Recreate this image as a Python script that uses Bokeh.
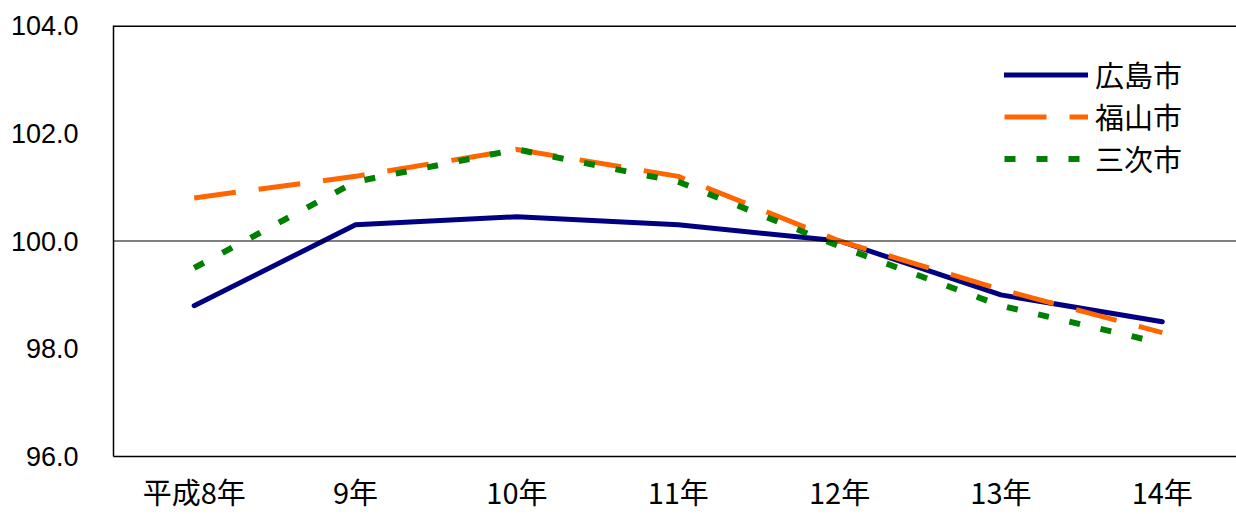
from bokeh.plotting import figure
from bokeh.models import (Range1d, FixedTicker, Span, Legend, LegendItem,
                          CustomJSTickFormatter)
from bokeh.embed import file_html
from bokeh.resources import INLINE

# ---- data ----
categories = ["平成8年", "9年", "10年", "11年", "12年", "13年", "14年"]
hiroshima = [98.8, 100.3, 100.45, 100.3, 100.0, 99.0, 98.5]
fukuyama = [100.8, 101.2, 101.7, 101.2, 100.0, 99.1, 98.3]
miyoshi = [99.5, 101.1, 101.7, 101.1, 99.9, 98.8, 98.1]
series_names = ["広島市", "福山市", "三次市"]
y_ticks = [96, 98, 100, 102, 104]

x = list(range(len(categories)))

p = figure(width=1236, height=514, output_backend="svg", toolbar_location=None,
           x_range=Range1d(-0.5, 6.46), y_range=Range1d(96, 104),
           min_border_left=113, min_border_right=0, min_border_top=25,
           min_border_bottom=57)
p.outline_line_color = None
p.background_fill_color = "white"
p.border_fill_color = "white"
p.xgrid.visible = False
p.ygrid.visible = False

# axes
p.yaxis.ticker = FixedTicker(ticks=y_ticks)
p.yaxis.formatter = CustomJSTickFormatter(code="return tick.toFixed(1);")
p.yaxis.major_tick_line_color = None
p.yaxis.minor_tick_line_color = None
p.yaxis.major_tick_out = 0
p.yaxis.major_label_standoff = 35
p.yaxis.major_label_text_font = "Liberation Sans"
p.yaxis.major_label_text_font_size = "27px"
p.yaxis.major_label_text_color = "black"
p.yaxis.axis_line_color = "black"
p.yaxis.axis_line_width = 1.5

p.xaxis.ticker = FixedTicker(ticks=x)
p.xaxis.major_label_overrides = {i: c for i, c in zip(x, categories)}
p.xaxis.major_tick_line_color = None
p.xaxis.minor_tick_line_color = None
p.xaxis.major_tick_out = 0
p.xaxis.major_label_standoff = 13
p.xaxis.major_label_text_font = "Noto Sans CJK JP"
p.xaxis.major_label_text_font_size = "29px"
p.xaxis.major_label_text_line_height = 0.8
p.xaxis.major_label_text_color = "black"
p.xaxis.axis_line_color = "black"
p.xaxis.axis_line_width = 1.5

# top border and 100 reference line
p.add_layout(Span(location=104, dimension="width", line_color="black", line_width=3))
p.add_layout(Span(location=100, dimension="width", line_color="black", line_width=1))

r1 = p.line(x, hiroshima, line_color="#000080", line_width=5, line_cap="round",
            line_join="round")
r2 = p.line(x, fukuyama, line_color="#FF6600", line_width=5, line_dash="42 23")
r3 = p.line(x, miyoshi, line_color="#008000", line_width=6, line_dash="11 21")

legend = Legend(items=[LegendItem(label=series_names[0], renderers=[r1]),
                       LegendItem(label=series_names[1], renderers=[r2]),
                       LegendItem(label=series_names[2], renderers=[r3])],
                location=(891, 277), orientation="vertical")
legend.border_line_color = None
legend.background_fill_alpha = 0
legend.padding = 0
legend.margin = 0
legend.spacing = 0
legend.glyph_width = 84
legend.glyph_height = 41
legend.label_height = 41
legend.label_standoff = 7
legend.label_text_font = "Noto Sans CJK JP"
legend.label_text_font_size = "29px"
legend.label_text_color = "black"
legend.label_text_baseline = "middle"
p.add_layout(legend)

open("out.html", "w").write(file_html(p, INLINE))
